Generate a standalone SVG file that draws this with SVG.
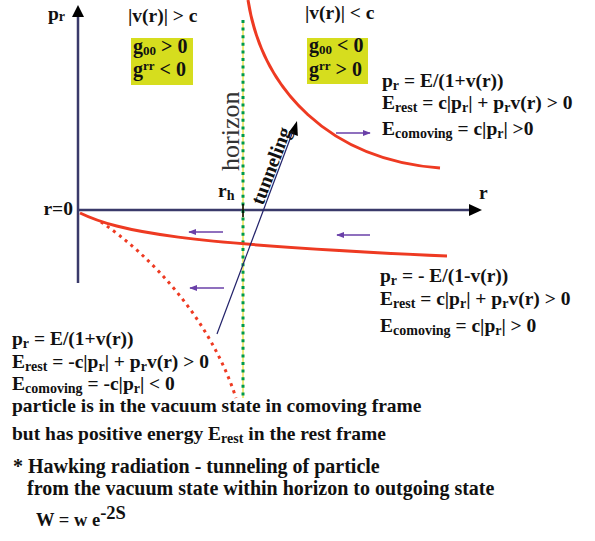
<svg xmlns="http://www.w3.org/2000/svg" width="595" height="541" viewBox="0 0 595 541">
<style>
text{font-family:"Liberation Serif","Times New Roman",serif;font-weight:bold;font-size:19.5px;fill:#111}
.s{font-size:14px}
.n{font-size:20px}
.g{font-size:20px}
.gs{font-size:13px}
.box{fill:#d6dd1e}
.red{fill:none;stroke:#ee3a22;stroke-width:3}
.pa{stroke:#6a40a8;stroke-width:1.6;fill:none}
</style>
<defs>
<marker id="pah" viewBox="0 0 10 10" refX="9" refY="5" markerWidth="8" markerHeight="8" markerUnits="userSpaceOnUse" orient="auto"><path d="M0,1 L10,5 L0,9 z" fill="#6a40a8"/></marker>
</defs>
<rect width="595" height="541" fill="#fff"/>

<g id="axes">
<line x1="78" y1="14" x2="78" y2="283" stroke="#3a3a6a" stroke-width="2.5"/>
<path d="M78,5 L72,17 L84,17 z" fill="#000"/>
<line x1="78" y1="210" x2="472" y2="210" stroke="#3a3a6a" stroke-width="2.5"/>
<path d="M482,210 L469,204 L469,216 z" fill="#000"/>
<text x="48" y="20">p<tspan class="s" dy="1">r</tspan></text>
<text x="479" y="199">r</text>
<text x="73" y="215" text-anchor="end">r=0</text>
</g>

<g id="horizon">
<line x1="243" y1="20" x2="243" y2="398" stroke="#e6d400" stroke-width="1"/>
<line x1="243" y1="20" x2="243" y2="398" stroke="#009a4a" stroke-width="3" stroke-dasharray="3 4.6"/>
<line x1="243" y1="204" x2="243" y2="217" stroke="#000" stroke-width="1.5"/>
<text x="239" y="171" transform="rotate(-90 239 171)" style="font-weight:normal;font-size:26px;fill:#333">horizon</text>
<text x="218" y="197">r<tspan class="s" dy="3">h</tspan></text>
</g>

<g id="curves">
<path class="red" d="M248,0 C262,90 330,160 440,168"/>
<path class="red" d="M80,213 C120,232 180,244 447,256"/>
<path class="red" d="M101,222 C150,255 210,318 236,398" stroke-width="3" stroke-dasharray="3 4.5"/>
</g>

<g id="connectors">
<line class="pa" x1="336" y1="133" x2="370" y2="133" marker-end="url(#pah)"/>
<line class="pa" x1="370" y1="235" x2="337" y2="235" marker-end="url(#pah)"/>
<line class="pa" x1="223" y1="232" x2="189" y2="232" marker-end="url(#pah)"/>
<line class="pa" x1="224" y1="288" x2="190" y2="288" marker-end="url(#pah)"/>
<line x1="217" y1="334" x2="293" y2="131" stroke="#22226a" stroke-width="1.2"/>
<path d="M297,121 L288.6,132.6 L297.9,136.1 z" fill="#000"/>
<text x="263" y="206" transform="rotate(-69.4 263 206)" style="font-size:20px">tunneling</text>
</g>

<g id="region-left">
<text x="128" y="22">|v(r)| &gt; c</text>
<rect class="box" x="131" y="38" width="62" height="47"/>
<text class="g" x="133" y="53">g<tspan class="gs" dy="2">00</tspan><tspan dy="-2"> &gt; 0</tspan></text>
<text class="g" x="133" y="76">g<tspan class="gs" dy="-6">rr</tspan><tspan dy="6"> &lt; 0</tspan></text>
</g>

<g id="region-right">
<text x="305" y="19">|v(r)| &lt; c</text>
<rect class="box" x="307" y="38" width="61" height="46"/>
<text class="g" x="309" y="52">g<tspan class="gs" dy="2">00</tspan><tspan dy="-2"> &lt; 0</tspan></text>
<text class="g" x="309" y="76">g<tspan class="gs" dy="-6">rr</tspan><tspan dy="6"> &gt; 0</tspan></text>
</g>

<g id="outgoing-text">
<text x="382" y="87">p<tspan class="s" dy="3">r</tspan><tspan dy="-3"> = E/(1+v(r))</tspan></text>
<text x="382" y="109">E<tspan class="s" dy="3">rest</tspan><tspan dy="-3"> = c|p</tspan><tspan class="s" dy="3">r</tspan><tspan dy="-3">| + p</tspan><tspan class="s" dy="3">r</tspan><tspan dy="-3">v(r) &gt; 0</tspan></text>
<text x="382" y="135">E<tspan class="s" dy="3">comoving</tspan><tspan dy="-3"> = c|p</tspan><tspan class="s" dy="3">r</tspan><tspan dy="-3">| &gt;0</tspan></text>
</g>

<g id="ingoing-text">
<text x="380" y="282">p<tspan class="s" dy="3">r</tspan><tspan dy="-3"> = - E/(1-v(r))</tspan></text>
<text x="380" y="305">E<tspan class="s" dy="3">rest</tspan><tspan dy="-3"> = c|p</tspan><tspan class="s" dy="3">r</tspan><tspan dy="-3">| + p</tspan><tspan class="s" dy="3">r</tspan><tspan dy="-3">v(r) &gt; 0</tspan></text>
<text x="380" y="332">E<tspan class="s" dy="3">comoving</tspan><tspan dy="-3"> = c|p</tspan><tspan class="s" dy="3">r</tspan><tspan dy="-3">| &gt; 0</tspan></text>
</g>

<g id="vacuum-text">
<text x="12" y="345">p<tspan class="s" dy="3">r</tspan><tspan dy="-3"> = E/(1+v(r))</tspan></text>
<text x="12" y="368">E<tspan class="s" dy="3">rest</tspan><tspan dy="-3"> = -c|p</tspan><tspan class="s" dy="3">r</tspan><tspan dy="-3">| + p</tspan><tspan class="s" dy="3">r</tspan><tspan dy="-3">v(r) &gt; 0</tspan></text>
<text x="12" y="390">E<tspan class="s" dy="3">comoving</tspan><tspan dy="-3"> = -c|p</tspan><tspan class="s" dy="3">r</tspan><tspan dy="-3">| &lt; 0</tspan></text>
<text x="12" y="412">particle is in the vacuum state in comoving frame</text>
<text x="12" y="440">but has positive energy E<tspan class="s" dy="3">rest</tspan><tspan dy="-3"> in the rest frame</tspan></text>
</g>

<g id="notes">
<text class="n" x="13" y="473">* Hawking radiation - tunneling of particle</text>
<text class="n" x="27" y="495">from the vacuum state within horizon to outgoing state</text>
<text x="36" y="526" style="font-size:18.5px">W = w e<tspan dy="-7">-2S</tspan></text>
</g>
</svg>
